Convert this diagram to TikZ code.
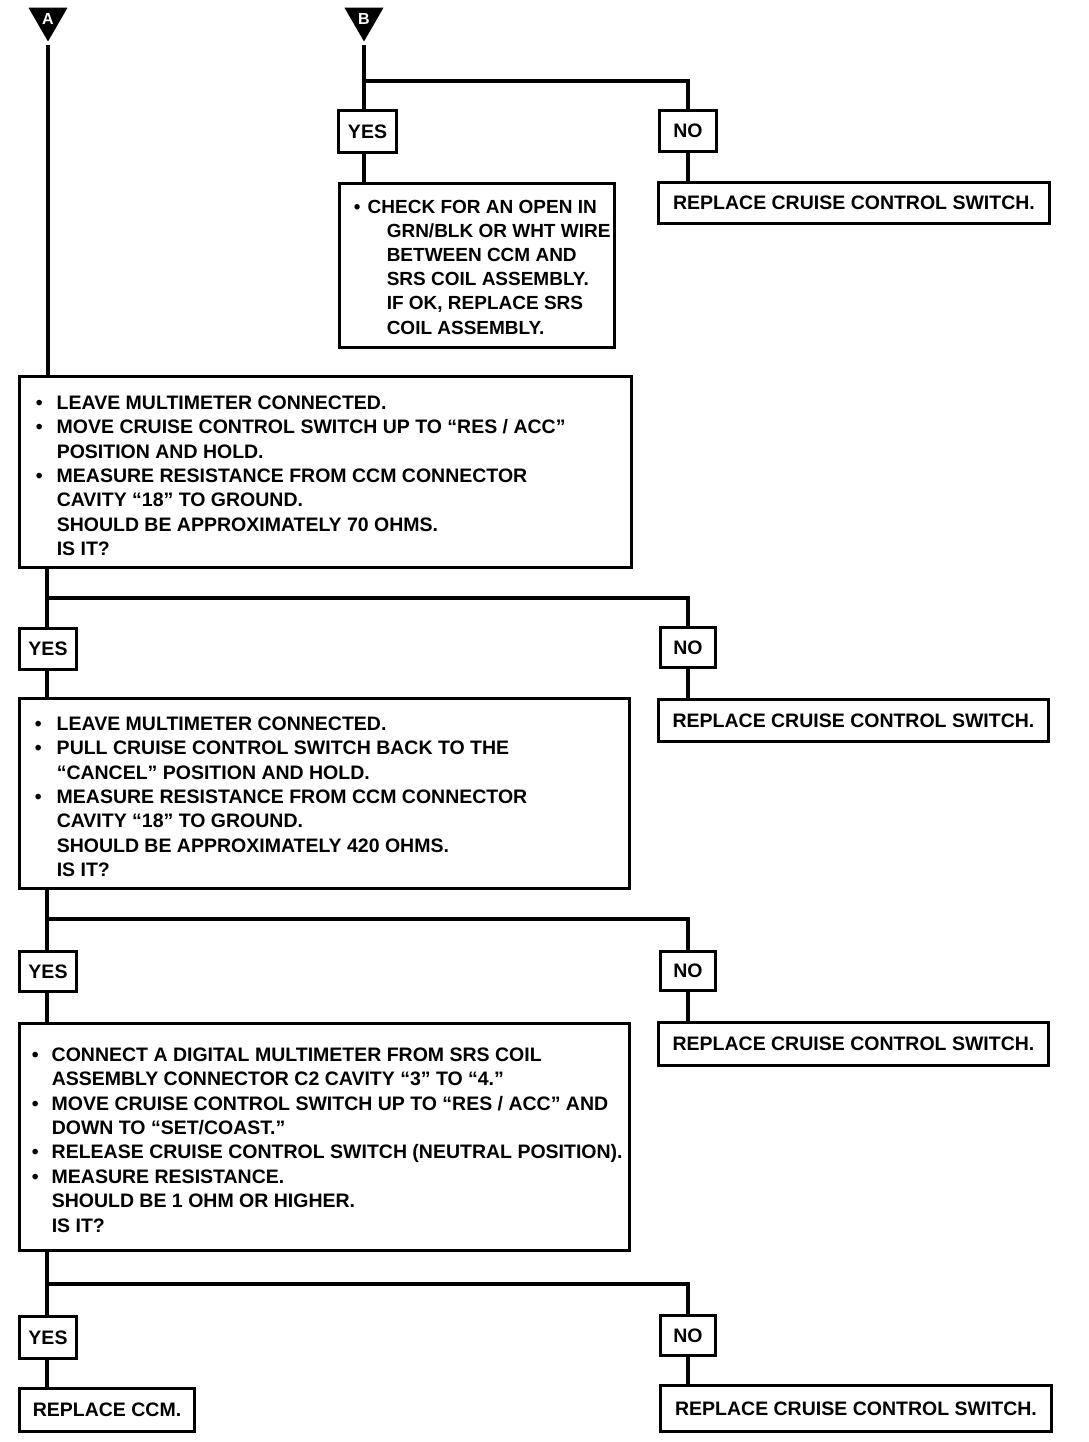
\documentclass[tikz,border=0pt]{standalone}
\usepackage{fontspec}
\setmainfont{Liberation Sans}
\usetikzlibrary{shapes.geometric}

\newcommand{\bl}[1]{\makebox[#1pt][l]{\textbullet}}
\newcommand{\ind}[1]{\hspace*{#1pt}}

\begin{document}
\begin{tikzpicture}[x=1pt, y=-1pt, line width=3.5pt,
		box/.style={draw, line width=3pt, inner sep=0pt, anchor=north west},
		txt/.style={inner sep=0pt, anchor=north west, align=left, font=\bfseries\fontsize{19.5}{24.4}\selectfont},
		ans/.style={box, font=\bfseries\fontsize{19.5}{24.4}\selectfont},
		tri/.style={regular polygon, regular polygon sides=3, shape border rotate=180, fill=black, inner sep=0pt, minimum size=45, text=white, font=\bfseries\fontsize{16}{16}\selectfont}]
			\useasboundingbox (0,0) rectangle (1088,1442);

			\node[tri] (triA) at(48, 19){A};
			\node[tri] (triB) at(364, 19){B};

			\node[ans, minimum width=58, minimum height=42] (yes0) at(337, 109){YES};
			\node[ans, minimum width=57, minimum height=41] (no0) at(658, 109){NO};
			\node[ans, minimum width=391, minimum height=41] (rep0) at(657, 181){REPLACE CRUISE CONTROL SWITCH.};
			\node[box, minimum width=275, minimum height=164] (chk) at(338, 182){};
				\node[txt, font=\bfseries\fontsize{19}{24.2}\selectfont] (chkt) at([xshift=14, yshift=-16]chk.north west){\bl{14}CHECK FOR AN OPEN IN\\
					\ind{33}GRN/BLK OR WHT WIRE\\
					\ind{33}BETWEEN CCM AND\\
					\ind{33}SRS COIL ASSEMBLY.\\
					\ind{33}IF OK, REPLACE SRS\\
					\ind{33}COIL ASSEMBLY.};

			\node[box, minimum width=612, minimum height=191] (q1) at(18, 375){};
				\node[txt] (q1t) at([xshift=16, yshift=-19]q1.north west){\bl{21}LEAVE MULTIMETER CONNECTED.\\
					\bl{21}MOVE CRUISE CONTROL SWITCH UP TO “RES / ACC”\\
					\ind{21}POSITION AND HOLD.\\
					\bl{21}MEASURE RESISTANCE FROM CCM CONNECTOR\\
					\ind{21}CAVITY “18” TO GROUND.\\
					\ind{21}SHOULD BE APPROXIMATELY 70 OHMS.\\
					\ind{21}IS IT?};

			\coordinate (br1) at(47, 598);
			\node[ans, minimum width=57, minimum height=41] (yes1) at(18, 627){YES};
			\node[ans, minimum width=55, minimum height=40] (no1) at(659, 626){NO};
			\node[ans, minimum width=390, minimum height=42] (rep1) at(657, 698){REPLACE CRUISE CONTROL SWITCH.};
			\node[box, minimum width=610, minimum height=190] (q2) at(18, 697){};
				\node[txt] (q2t) at([xshift=15, yshift=-18]q2.north west){\bl{22}LEAVE MULTIMETER CONNECTED.\\
					\bl{22}PULL CRUISE CONTROL SWITCH BACK TO THE\\
					\ind{22}“CANCEL” POSITION AND HOLD.\\
					\bl{22}MEASURE RESISTANCE FROM CCM CONNECTOR\\
					\ind{22}CAVITY “18” TO GROUND.\\
					\ind{22}SHOULD BE APPROXIMATELY 420 OHMS.\\
					\ind{22}IS IT?};

			\coordinate (br2) at(47, 919);
			\node[ans, minimum width=57, minimum height=40] (yes2) at(18, 950){YES};
			\node[ans, minimum width=55, minimum height=39] (no2) at(659, 950){NO};
			\node[ans, minimum width=390, minimum height=43] (rep2) at(657, 1021){REPLACE CRUISE CONTROL SWITCH.};
			\node[box, minimum width=610, minimum height=227] (q3) at(18, 1022){};
				\node[txt] (q3t) at([xshift=12, yshift=-24]q3.north west){\bl{20}CONNECT A DIGITAL MULTIMETER FROM SRS COIL\\
					\ind{20}ASSEMBLY CONNECTOR C2 CAVITY “3” TO “4.”\\
					\bl{20}MOVE CRUISE CONTROL SWITCH UP TO “RES / ACC” AND\\
					\ind{20}DOWN TO “SET/COAST.”\\
					\bl{20}RELEASE CRUISE CONTROL SWITCH (NEUTRAL POSITION).\\
					\bl{20}MEASURE RESISTANCE.\\
					\ind{20}SHOULD BE 1 OHM OR HIGHER.\\
					\ind{20}IS IT?};

			\coordinate (br3) at(47, 1284);
			\node[ans, minimum width=57, minimum height=42] (yes3) at(18, 1315){YES};
			\node[ans, minimum width=55, minimum height=40] (no3) at(659, 1314){NO};
			\node[ans, minimum width=175, minimum height=43] (ccm) at(18, 1387){REPLACE CCM.};
			\node[ans, minimum width=391, minimum height=46] (rep3) at(659, 1384){REPLACE CRUISE CONTROL SWITCH.};

			\coordinate (br0) at(364, 81);
			\draw(triB.corner 1) to (triB.corner 1 |- yes0.north);
			\draw(br0) -| (no0.north);
			\draw(yes0.south -| br0) to (chk.north -| br0);
			\draw(no0.south) to (no0.south |- rep0.north);

			\draw(triA.corner 1) to (triA.corner 1 |- q1.north);
			\draw(q1.south -| br1) to (yes1.north -| br1);
			\draw(br1) -| (no1.north);
			\draw(yes1.south -| br1) to (q2.north -| br1);
			\draw(no1.south) to (no1.south |- rep1.north);

			\draw(q2.south -| br2) to (yes2.north -| br2);
			\draw(br2) -| (no2.north);
			\draw(yes2.south -| br2) to (q3.north -| br2);
			\draw(no2.south) to (no2.south |- rep2.north);

			\draw(q3.south -| br3) to (yes3.north -| br3);
			\draw(br3) -| (no3.north);
			\draw(yes3.south -| br3) to (ccm.north -| br3);
			\draw(no3.south) to (no3.south |- rep3.north);
		\end{tikzpicture}
\end{document}
